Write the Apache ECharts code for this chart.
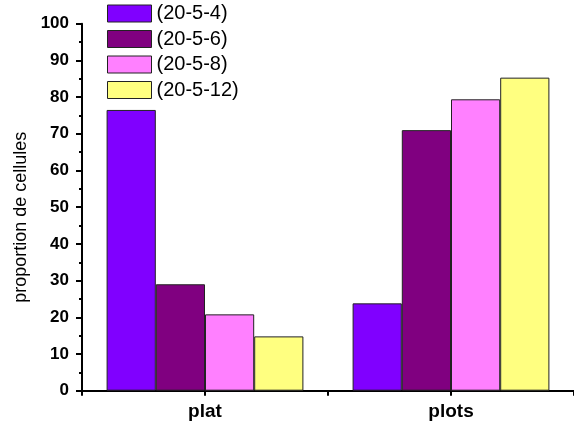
<!DOCTYPE html>
<html>
<head>
<meta charset="utf-8">
<script src="https://cdn.jsdelivr.net/npm/echarts@6/dist/echarts.min.js"></script>
<style>html,body{margin:0;padding:0;background:#fff}#c{width:574px;height:428px}</style>
</head>
<body>
<div id="c"></div>
<script>
var categories = ['plat', 'plots'];
var seriesNames = ['(20-5-4)', '(20-5-6)', '(20-5-8)', '(20-5-12)'];
var s1 = [76.5, 23.8];
var s2 = [29.0, 71.0];
var s3 = [20.8, 79.4];
var s4 = [14.8, 85.3];
var colors = ['#8000FF', '#800080', '#FF80FF', '#FFFF80'];
var yTicks = [0, 10, 20, 30, 40, 50, 60, 70, 80, 90, 100];

var FONT = 'Liberation Sans, Arial, sans-serif';
var chart = echarts.init(document.getElementById('c'), null, {renderer: 'canvas'});
var values = [s1, s2, s3, s4];
var series = values.map(function (v, i) {
  return {
    name: seriesNames[i],
    type: 'bar',
    data: v,
    barGap: '0%',
    barCategoryGap: '20%',
    itemStyle: {color: colors[i], borderColor: '#222', borderWidth: 1},
    emphasis: {disabled: true}
  };
});
chart.setOption({
  animation: false,
  backgroundColor: '#fff',
  textStyle: {fontFamily: FONT},
  legend: {
    orient: 'vertical',
    left: 107,
    top: 3.5,
    padding: 0,
    itemWidth: 44,
    itemHeight: 17,
    itemGap: 5.5,
    icon: 'rect',
    data: seriesNames,
    itemStyle: {borderColor: '#222', borderWidth: 1},
    textStyle: {fontFamily: FONT, fontSize: 20, color: '#000'}
  },
  grid: {left: 82, right: -8, top: 23.7, bottom: 37.3, containLabel: false},
  xAxis: [{
    type: 'category',
    data: categories,
    boundaryGap: true,
    axisLine: {lineStyle: {color: '#000', width: 2}},
    axisTick: {show: true, length: 5, lineStyle: {color: '#000', width: 2}},
    axisLabel: {fontFamily: FONT, fontSize: 19, fontWeight: 'bold', color: '#000', margin: 12}
  }, {
    type: 'category',
    data: categories,
    position: 'bottom',
    boundaryGap: true,
    axisLine: {show: false},
    axisTick: {show: true, alignWithLabel: true, length: 5, lineStyle: {color: '#000', width: 2}},
    axisLabel: {show: false}
  }],
  yAxis: {
    type: 'value',
    min: yTicks[0],
    max: yTicks[yTicks.length - 1],
    interval: 10,
    name: 'proportion de cellules',
    nameLocation: 'middle',
    nameGap: 52,
    nameTextStyle: {fontFamily: FONT, fontSize: 18, color: '#000', padding: [0, 20, 0, 0]},
    axisLine: {show: true, lineStyle: {color: '#000', width: 2}},
    axisTick: {show: true, length: 6, lineStyle: {color: '#000', width: 2}},
    minorTick: {show: true, splitNumber: 2, length: 3, lineStyle: {color: '#000', width: 2}},
    splitLine: {show: false},
    axisLabel: {fontFamily: FONT, fontSize: 17, fontWeight: 'bold', color: '#000', margin: 13}
  },
  series: series
});
</script>
</body>
</html>
